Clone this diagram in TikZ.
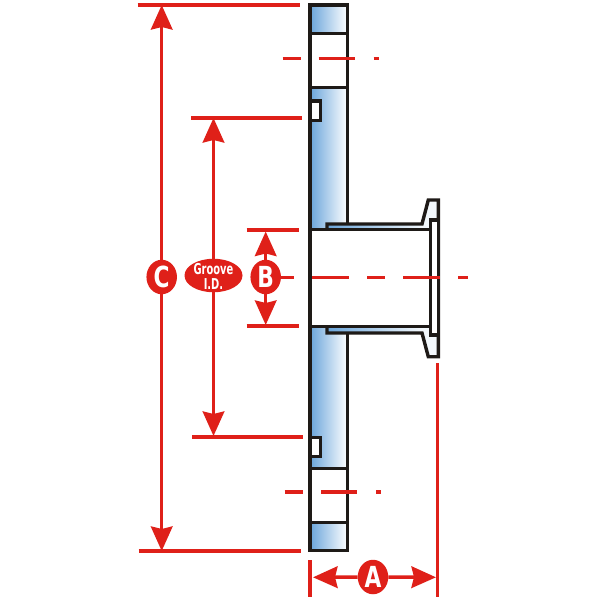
\documentclass[tikz,border=0pt]{standalone}
\usepackage{fontspec}
\setmainfont{DejaVu Sans}
\usetikzlibrary{arrows.meta,shapes.geometric}
\definecolor{dimred}{HTML}{DF2019}
\definecolor{steel}{HTML}{1E1A17}
\definecolor{blueL}{HTML}{6AA5DA}
\tikzset{
  dimline/.style={draw=dimred,line width=3.5pt},
  dimarrow/.style={draw=dimred,line width=3.5pt,-{Stealth[length=24.5pt,width=21.5pt,inset=2.5pt,fill=dimred]}},
  wall/.style={draw=steel,line width=3.4pt,line join=miter},
  letter/.style={ellipse,fill=dimred,text=white,minimum width=30.5pt,minimum height=34.5pt,inner sep=0pt,font=\fontsize{29}{29}\selectfont\bfseries},
  grooveoval/.style={ellipse,fill=dimred,text=white,minimum width=58pt,minimum height=33.5pt,inner sep=0pt},
  groovetext/.style={anchor=base,text=white,font=\fontsize{15}{15}\selectfont\bfseries,inner sep=0pt}
}
\newcommand{\squeezeA}[1]{\scalebox{0.75}[1]{#1}}
\newcommand{\squeezeB}[1]{\makebox[0pt]{\scalebox{0.66}[1]{#1}}}
\begin{document}
\begin{tikzpicture}[x=1pt,y=-1pt]
\useasboundingbox (0,0) rectangle (600,600);
% blue faces
\shade[left color=blueL,right color=white] (310,5) rectangle (347.5,34);
\shade[left color=blueL,right color=white] (310,87.5) rectangle (347.5,229);
\shade[left color=blueL,right color=white] (310,327) rectangle (347.5,469);
\shade[left color=blueL,right color=white] (310,522.7) rectangle (347.5,550.5);
\shade[left color=blueL,right color=white] (327,224) rectangle (430,229.7);
\shade[left color=blueL,right color=white] (327,327) rectangle (430,333);
\fill[blueL!8] (422,224) -- (428.3,200) -- (438.3,200) -- (438.3,229) -- (422,229) -- cycle;
\fill[blueL!8] (422,333) -- (428.3,356.7) -- (438.3,356.7) -- (438.3,327) -- (422,327) -- cycle;
% grooves
\filldraw[wall,fill=white] (310,101) -- (320.5,101) -- (320.5,120.7) -- (310,120.7);
\filldraw[wall,fill=white] (310,437.3) -- (320.5,437.3) -- (320.5,456.7) -- (310,456.7);
% hub
\filldraw[wall,fill=white] (310,229.7) -- (430.3,229.7) -- (430.3,326.7) -- (310,326.7);
\draw[wall] (327,229.7) -- (327,224) -- (422,224) -- (428.3,200) -- (438.3,200) -- (438.3,356.7) -- (428.3,356.7) -- (422,333) -- (327,333) -- (327,326.7);
\filldraw[wall,fill=white] (430.3,220) -- (438.3,220) -- (438.3,335) -- (430.3,335) -- cycle;
% flange body
\draw[wall] (347.5,224) -- (347.5,5) -- (310,5) -- (310,550.5) -- (347.5,550.5) -- (347.5,333);
\draw[wall] (310,33.7) -- (347.5,33.7);
\draw[wall] (310,87.5) -- (347.5,87.5);
\draw[wall] (310,468.7) -- (347.5,468.7);
\draw[wall] (310,522.7) -- (347.5,522.7);
% centre lines
\foreach \a/\b in {282.5/300.5,318.5/355,373.5/378.5}{\draw[dimline] (\a,58.7) -- (\b,58.7);}
\foreach \a/\b in {284.5/303,321/357,376/381}{\draw[dimline] (\a,492) -- (\b,492);}
\foreach \a/\b in {280/294,312/349,367/385,403/440,458/468}{\draw[dimline] (\a,277.5) -- (\b,277.5);}
% extension lines
\draw[dimline] (137.5,5) -- (299.5,5);
\draw[dimline] (138.5,551) -- (301,551);
\draw[dimline] (191,118) -- (302,118);
\draw[dimline] (192,437) -- (303,437);
\draw[dimline] (246.5,230) -- (298.5,230);
\draw[dimline] (246.5,326) -- (298.5,326);
\draw[dimline] (310,560) -- (310,597);
\draw[dimline] (437.7,363) -- (437.7,597);
% dimension labels
\coordinate (ct) at (161.7,5); \coordinate (cb) at (161.7,551);
\coordinate (gt) at (213.5,118); \coordinate (gb) at (213.5,436);
\coordinate (bt) at (265.7,231.5); \coordinate (bb) at (265.7,325);
\coordinate (al) at (313,577.3); \coordinate (ar) at (436,577.3);
\node[letter] (C) at (161.7,277) {\squeezeA{C}};
\node[grooveoval] (G) at (213.5,275.5) {};
\node[letter] (B) at (265.7,277) {\squeezeA{B}};
\node[letter] (A) at (373,577) {\squeezeA{A}};
\draw[dimarrow] (C) -- (ct);
\draw[dimarrow] (C) -- (cb);
\draw[dimarrow] (G) -- (gt);
\draw[dimarrow] (G) -- (gb);
\draw[dimarrow] (B) -- (bt);
\draw[dimarrow] (B) -- (bb);
\draw[dimarrow] (A) -- (al);
\draw[dimarrow] (A) -- (ar);
\node[groovetext] (G1) at (213.5,274) {\squeezeB{Groove}};
\node[groovetext] (G2) at (213.5,289.3) {\squeezeB{I.D.}};
\end{tikzpicture}
\end{document}
